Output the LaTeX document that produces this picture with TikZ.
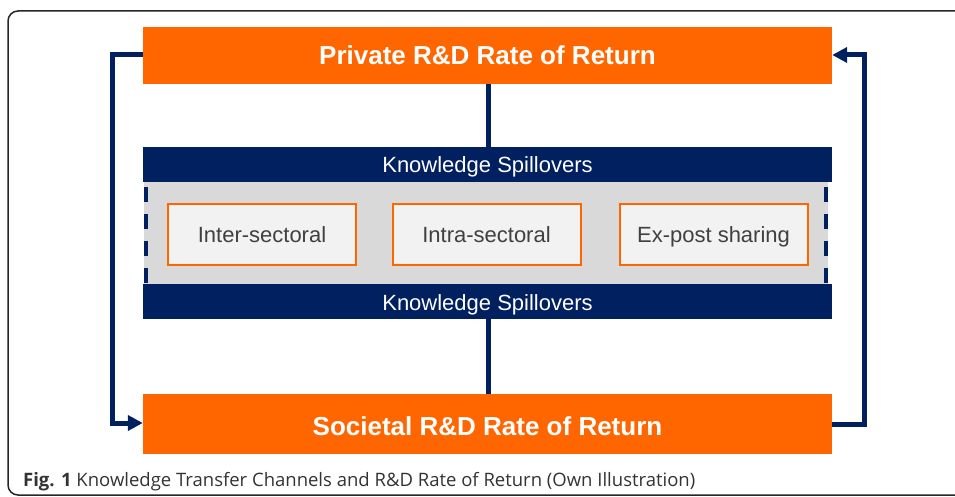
\documentclass[tikz,border=0pt]{standalone}
\usepackage{fontspec}
\setmainfont{Liberation Sans}
\newfontfamily\capfont{Open Sans}
\usetikzlibrary{arrows.meta}
\definecolor{orng}{HTML}{FF6600}
\definecolor{navy}{HTML}{002060}
\definecolor{lgray}{HTML}{D9D9D9}
\definecolor{pale}{HTML}{F2F2F2}
\definecolor{txt}{HTML}{404040}
\definecolor{captxt}{HTML}{333333}
\tikzset{
  ratebox/.style={fill=orng, minimum width=689pt, inner sep=0pt},
  ratetext/.style={anchor=base, inner sep=0pt, text=white, font=\fontsize{26}{30}\selectfont\bfseries},
  band/.style={fill=navy, minimum width=689pt, minimum height=35pt, inner sep=0pt},
  bandtext/.style={anchor=base, inner sep=0pt, text=white, font=\fontsize{22}{26}\selectfont},
  chan/.style={fill=pale, draw=orng, line width=2pt, minimum width=188pt, minimum height=61pt, inner sep=0pt},
  chantext/.style={anchor=base, inner sep=0pt, text=txt, font=\fontsize{22}{26}\selectfont},
  conn/.style={draw=navy, line width=5pt},
  arr/.style={conn, -{Triangle[length=15pt,width=15pt]}},
  dashside/.style={navy, line width=4pt, dash pattern=on 15pt off 12pt},
}
\begin{document}
\begin{tikzpicture}[x=1pt,y=-1pt]
\useasboundingbox (0,0) rectangle (955,497);
\clip (0,0) rectangle (955,497);
% outer frame
\draw[line width=1.5pt, black!85, rounded corners=10pt] (975,11) -- (8,11) -- (8,495) -- (975,495);
% gray region with dashed border
\node[fill=lgray, minimum width=684pt, minimum height=102pt, inner sep=0pt] (grayreg) at (486,233.5) {};
\draw[dashside] ([xshift=2pt,yshift=-5pt]grayreg.north west) -- ([xshift=2pt]grayreg.south west);
\draw[dashside] ([xshift=-2pt,yshift=-5pt]grayreg.north east) -- ([xshift=-2pt]grayreg.south east);
% bands
\node[band] (band1) at (487.5,165) {};
\node[bandtext] (band1t) at (487.5,172.5) {Knowledge Spillovers};
\node[band] (band2) at (487.5,301.5) {};
\node[bandtext] (band2t) at (487.5,310) {Knowledge Spillovers};
% rate boxes
\node[ratebox, minimum height=57pt] (priv) at (487.5,55.5) {};
\node[ratetext] (privt) at (487.5,64.5) {Private R\&D Rate of Return};
\node[ratebox, minimum height=60pt] (soc) at (487.5,424) {};
\node[ratetext] (soct) at (487.5,435.5) {Societal R\&D Rate of Return};
% channels
\node[chan] (c1) at (262,234.5) {};
\node[chantext] (c1t) at (c1.center |- 0,242) {Inter-sectoral};
\node[chan] (c2) at (486.5,234.5) {};
\node[chantext] (c2t) at (c2.center |- 0,242) {Intra-sectoral};
\node[chan] (c3) at (713.5,234.5) {};
\node[chantext] (c3t) at (c3.center |- 0,242) {Ex-post sharing};
% vertical links
\draw[conn] (priv.south -| 488,0) -- (band1.north -| 488,0);
\draw[conn] (band2.south -| 488,0) -- (soc.north -| 488,0);
% side loops
\coordinate (lt) at (112.5,55);
\coordinate (lb) at (112.5,423);
\coordinate (rt) at (864,55);
\coordinate (rb) at (864,424);
\draw[arr] (priv.west |- lt) -- (lt) -- (lb) -- (soc.west |- lb);
\draw[arr] (soc.east |- rb) -- (rb) -- (rt) -- (priv.east |- rt);
% caption
\node[anchor=west, inner sep=0pt, text=captxt, font=\capfont\fontsize{18.5}{21}\selectfont] (cap) at (23,482) {\textbf{Fig. 1} Knowledge Transfer Channels and R\&D Rate of Return (Own Illustration)};
\end{tikzpicture}
\end{document}
